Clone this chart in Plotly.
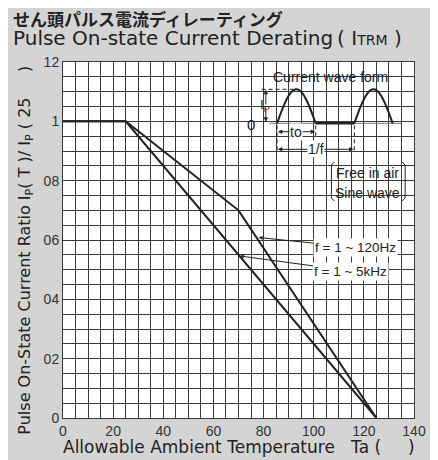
import numpy as np
import plotly.graph_objects as go

# ---- data ----
temp_120hz = [0, 25, 70, 125]
ratio_120hz = [1.0, 1.0, 0.70, 0.0]
temp_5khz = [0, 25, 125]
ratio_5khz = [1.0, 1.0, 0.0]
x_ticks = list(range(0, 145, 5))
x_ticklabels = [str(v) if v % 20 == 0 else "" for v in x_ticks]
y_ticks = [round(0.05 * i, 2) for i in range(25)]
y_label_map = {0.0: "0", 0.2: "02", 0.4: "04", 0.6: "06", 0.8: "08", 1.0: "1", 1.2: "12"}
y_ticklabels = [y_label_map.get(v, "") for v in y_ticks]

# page offset (browser body margin)
OFF = 8
W, H = 438 - OFF, 460 - OFF
# plot area in reference pixel coordinates
L, R, T, B = 63, 420, 62, 418
FONT = "Liberation Sans, Arial, Noto Sans CJK JP"
WIDE = "DejaVu Sans, Liberation Sans"
INK = "#222222"
GRID = "#3a3a3a"


def X(px):
    return (px - L) / (R - L)


def Y(py):
    return (B - py) / (B - T)


fig = go.Figure()
fig.add_trace(go.Scatter(x=temp_120hz, y=ratio_120hz, mode="lines",
                         line=dict(color=INK, width=2), showlegend=False))
fig.add_trace(go.Scatter(x=temp_5khz, y=ratio_5khz, mode="lines",
                         line=dict(color=INK, width=2), showlegend=False))

shapes = []
# inset white areas
shapes.append(dict(type="rect", xref="paper", yref="paper", x0=X(242.5), x1=X(413), y0=Y(158), y1=Y(66),
                   fillcolor="white", line=dict(width=0), layer="between"))
shapes.append(dict(type="rect", xref="paper", yref="paper", x0=X(334), x1=X(413), y0=Y(203), y1=Y(157),
                   fillcolor="white", line=dict(width=0), layer="between"))

# waveform
base_y = 123.3
peak_y = 89.3


def hump(x0, x1):
    t = np.linspace(0, 1, 40)
    pts = [(X(x0 + (x1 - x0) * tt), Y(base_y - (base_y - peak_y) * np.sin(np.pi * tt))) for tt in t]
    return "M " + " L ".join(f"{a:.5f},{b:.5f}" for a, b in pts)


shapes.append(dict(type="line", xref="paper", yref="paper", x0=X(273), x1=X(407), y0=Y(base_y), y1=Y(base_y),
                   line=dict(color="#777777", width=1), layer="above"))
shapes.append(dict(type="line", xref="paper", yref="paper", x0=X(320), x1=X(359.3), y0=Y(base_y), y1=Y(base_y),
                   line=dict(color=INK, width=2.5), layer="above"))
for a, b in [(280.7, 320), (359.3, 398.3)]:
    shapes.append(dict(type="path", xref="paper", yref="paper", path=hump(a, b),
                       line=dict(color=INK, width=2), layer="above"))
# dashed guides
dash = dict(color=INK, width=1, dash="4px,3px")
shapes.append(dict(type="line", xref="paper", yref="paper", x0=X(265), x1=X(297), y0=Y(peak_y), y1=Y(peak_y),
                   line=dash, layer="above"))
shapes.append(dict(type="line", xref="paper", yref="paper", x0=X(280.7), x1=X(280.7), y0=Y(base_y + 2), y1=Y(152),
                   line=dash, layer="above"))
shapes.append(dict(type="line", xref="paper", yref="paper", x0=X(320), x1=X(320), y0=Y(base_y + 2), y1=Y(136),
                   line=dash, layer="above"))
shapes.append(dict(type="line", xref="paper", yref="paper", x0=X(359.3), x1=X(359.3), y0=Y(base_y + 2), y1=Y(152),
                   line=dash, layer="above"))


# brackets around Free in air
def bracket(xe, xh, y0, y1):
    return (f"M {X(xh):.5f},{Y(y0):.5f} L {X(xe):.5f},{Y(y0 + 3):.5f} L {X(xe):.5f},{Y(y1 - 3):.5f} "
            f"L {X(xh):.5f},{Y(y1):.5f}")


shapes.append(dict(type="path", xref="paper", yref="paper", path=bracket(336, 339, 162, 201),
                   line=dict(color=INK, width=1), layer="above"))
shapes.append(dict(type="path", xref="paper", yref="paper", path=bracket(411, 408, 162, 201),
                   line=dict(color=INK, width=1), layer="above"))

annotations = []


def arrow(tip_px, tip_py, tail_px, tail_py):
    annotations.append(dict(xref="paper", yref="paper", x=X(tip_px), y=Y(tip_py), text="",
                            showarrow=True, axref="pixel", ayref="pixel",
                            ax=tail_px - tip_px, ay=tail_py - tip_py,
                            arrowhead=2, arrowsize=0.9, arrowwidth=1, arrowcolor=INK))


# Ip arrow
arrow(269.3, peak_y + 0.5, 269.3, 106)
arrow(269.3, base_y - 1.5, 269.3, 106)
# to arrow
arrow(281.5, 131.7, 300, 131.7)
arrow(319.5, 131.7, 300, 131.7)
# 1/f arrow
arrow(281.5, 149.3, 320, 149.3)
arrow(358.5, 149.3, 320, 149.3)


def txt(s, px, py, size=15, bg=None, anchor="center", family=FONT, **kw):
    d = dict(xref="paper", yref="paper", x=X(px), y=Y(py), text=s, showarrow=False,
             xanchor=anchor, yanchor="middle", font=dict(family=family, size=size, color=INK))
    if bg:
        d["bgcolor"] = bg
        d["borderpad"] = 0
    d.update(kw)
    annotations.append(d)


txt("Current wave form", 335, 77, size=14)
txt("I<sub>P</sub>", 268.5, 106, size=13)
txt("0", 254.5, 124, size=15)
txt("to", 300, 131.7, size=14, bg="white")
txt("1/f", 320, 149.3, size=14, bg="white")
txt("Free in air", 373, 173, size=14)
txt("Sine wave", 373, 192.5, size=14)

# curve labels with leader arrows
annotations.append(dict(xref="paper", yref="paper", x=X(262), y=Y(237.5), text="f = 1 ~ 120Hz",
                        showarrow=True, axref="pixel", ayref="pixel", ax=97, ay=10,
                        arrowhead=2, arrowsize=0.8, arrowwidth=1, arrowcolor=INK,
                        bgcolor="white", borderpad=1,
                        font=dict(family=FONT, size=13.5, color=INK)))
annotations.append(dict(xref="paper", yref="paper", x=X(243), y=Y(256), text="f = 1 ~ 5kHz",
                        showarrow=True, axref="pixel", ayref="pixel", ax=111, ay=15,
                        arrowhead=2, arrowsize=0.8, arrowwidth=1, arrowcolor=INK,
                        bgcolor="white", borderpad=1,
                        font=dict(family=FONT, size=13.5, color=INK)))

# titles
txt("<b>せん頭パルス電流ディレーティング</b>", 10, 19, size=17, anchor="left",
    family="Noto Sans CJK JP")
txt("Pulse On-state Current Derating\u2009( I<span style='font-size:14px'>TRM</span> )", 10, 38, size=20,
    anchor="left", family=WIDE)
txt("Pulse On-State Current Ratio I<sub>P</sub>( T )/ I<sub>P</sub> ( 25     )", 25, 250, size=16,
    textangle=-90, family=WIDE)
txt("Allowable Ambient Temperature   Ta (     )", 242, 447, size=17, family=WIDE)

fig.update_layout(
    width=W, height=H,
    margin=dict(l=L - OFF, r=438 - R, t=T - OFF, b=460 - B, pad=0),
    paper_bgcolor="#d4d4d4", plot_bgcolor="white",
    shapes=shapes, annotations=annotations, showlegend=False,
    font=dict(family=FONT, size=14, color="#333333"),
    xaxis=dict(range=[0, 140], tickmode="array", tickvals=x_ticks, ticktext=x_ticklabels,
               showgrid=True, gridcolor=GRID, gridwidth=1,
               showline=True, linecolor=GRID, linewidth=1, mirror=True,
               zeroline=False, ticks="", tickfont=dict(size=14, color="#333333")),
    yaxis=dict(range=[0, 1.2], tickmode="array", tickvals=y_ticks, ticktext=y_ticklabels,
               showgrid=True, gridcolor=GRID, gridwidth=1,
               showline=True, linecolor=GRID, linewidth=1, mirror=True,
               zeroline=False, ticks="", tickfont=dict(size=14, color="#333333")),
)

fig.write_html("out.html")
